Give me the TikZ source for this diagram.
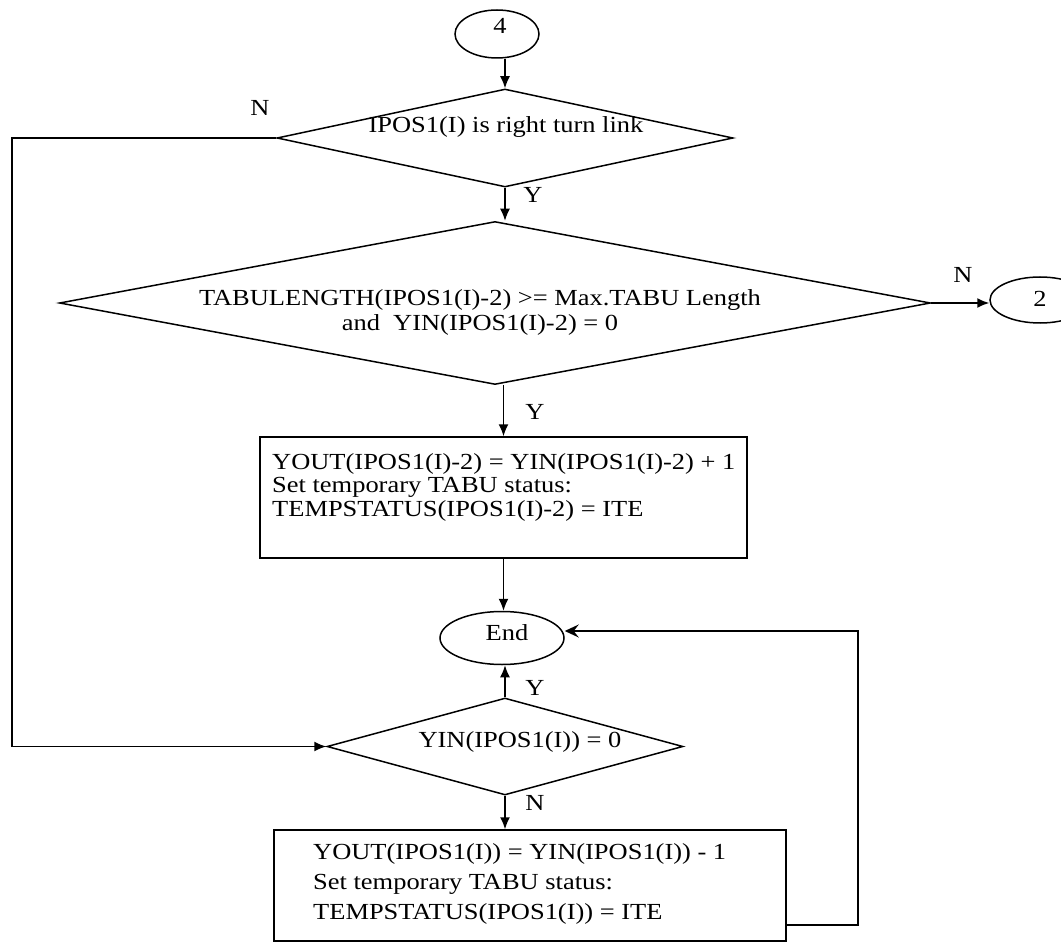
\documentclass[tikz,border=0pt]{standalone}
\usepackage{fontspec}
\setmainfont{Liberation Serif}[FakeStretch=1.15]
\usetikzlibrary{shapes.geometric, arrows.meta}
\begin{document}
\begin{tikzpicture}[x=1pt,y=-1pt,
  every node/.style={font=\fontsize{23}{22}\selectfont, inner sep=0pt},
  ln/.style={line width=1.5pt, black},
  arr/.style={ln, -{Latex[length=12pt,width=10pt]}},
  arrs/.style={ln, -{Stealth[length=14pt,width=13pt,inset=5pt]}},
  dia/.style={diamond, draw, line width=1.5pt},
  oval/.style={ellipse, draw, line width=1.5pt},
  boxs/.style={rectangle, draw, line width=1.5pt},
  txt/.style={align=left},
]
\useasboundingbox (0,0) rectangle (1061,944);

% nodes
\node[oval, minimum width=84pt, minimum height=48pt] (c4) at (497,34) {};
\node (c4t) at (500,26) {4};
\node[dia, minimum width=456pt, minimum height=98pt] (d1) at (505,138) {};
\node (d1t) at (506,127) {IPOS1(I) is right turn link};
\node[dia, minimum width=871pt, minimum height=163pt] (d2) at (495,303) {};
\node[align=center] (d2t) at (480,312) {TABULENGTH(IPOS1(I)-2) >= Max.TABU Length\\[3pt]and\ \ YIN(IPOS1(I)-2) = 0};
\node[oval, minimum width=100pt, minimum height=46pt] (c2) at (1040,300) {};
\node (c2t) at (1040,299) {2};
\node[boxs, minimum width=487pt, minimum height=121pt] (b1) at (503.5,497.5) {};
\node[txt, anchor=west] (b1t) at (272,487) {YOUT(IPOS1(I)-2) = YIN(IPOS1(I)-2) + 1\\[1.5pt]Set temporary TABU status:\\[1.5pt]TEMPSTATUS(IPOS1(I)-2) = ITE};
\node[oval, minimum width=124pt, minimum height=53pt] (end) at (502,638) {};
\node (endt) at (507,633) {End};
\node[dia, minimum width=356pt, minimum height=97pt] (d3) at (505,746.5) {};
\node (d3t) at (520,742) {YIN(IPOS1(I)) = 0};
\node[boxs, minimum width=512pt, minimum height=111pt] (b2) at (530,885.5) {};
\node[txt, anchor=west] (b2t) at (313,883.5) {YOUT(IPOS1(I)) = YIN(IPOS1(I)) - 1\\[8pt]Set temporary TABU status:\\[8pt]TEMPSTATUS(IPOS1(I)) = ITE};

% labels
\node (n1) at (260,108) {N};
\node (y1) at (533,195) {Y};
\node (n2) at (963,275) {N};
\node (y2) at (535,412) {Y};
\node (y3) at (535,688) {Y};
\node (n3) at (535,803) {N};

% connectors
\coordinate (L1) at (12,138);
\coordinate (R1) at (858,925);
\coordinate (R2) at (858,631);
\draw[arr] (c4.south -| d1.north) -- (d1.north);
\draw[arr] (d1.south) -- (d1.south |- d2.north);
\draw[arr] (d2.east) -- (d2.east -| c2.west);
\draw[arr] (d2.south -| b1.north) -- (b1.north);
\draw[arr] (b1.south) -- (b1.south |- end.north);
\draw[arr] (d3.north) -- (d3.north |- end.south);
\draw[arr] (d3.south) -- (d3.south |- b2.north);
\draw[arr] (d1.west) -- (d1.west -| L1) |- (d3.west);
\draw[arrs] (b2.east |- R1) -- (R1) -- (R2) -- (R2 -| end.east);
\end{tikzpicture}
\end{document}
